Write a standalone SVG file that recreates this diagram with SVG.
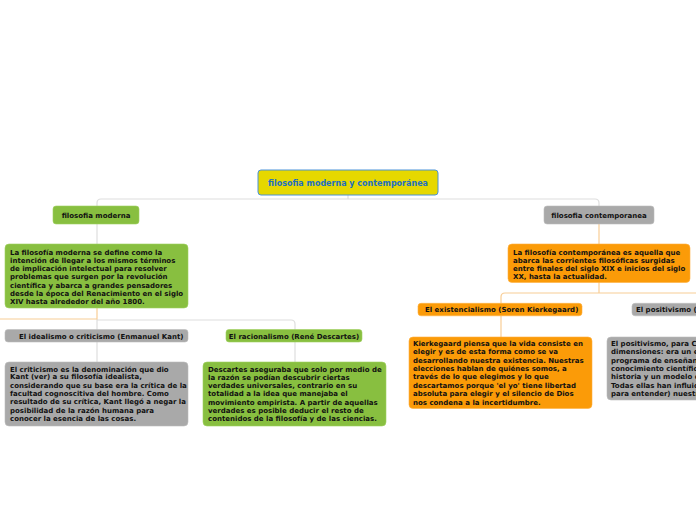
<svg xmlns="http://www.w3.org/2000/svg" width="696" height="520" viewBox="0 0 696 520">
<style>
text{font-family:"DejaVu Sans","Verdana",sans-serif;font-weight:bold;font-size:7px;fill:#111}
.green{fill:#88bf40;stroke:#9fd060;stroke-width:0.6}
.gray{fill:#a9a9a9;stroke:#bdbdbd;stroke-width:0.6}
.orange{fill:#fb9b08;stroke:#ffb040;stroke-width:0.6}
.cg{fill:none;stroke:#dedede;stroke-width:1.2}
.co{fill:none;stroke:#f8cd95;stroke-width:1.2}
.root{fill:#e6d800;stroke:#4a92d8;stroke-width:1}
.rt{fill:#1f6fc0;font-size:8px}
.c{text-anchor:middle}
</style>
<rect width="696" height="520" fill="#ffffff"/>
<g id="connectors">
<path class="cg" d="M348 195 V199"/>
<path class="cg" d="M97 206 V203 Q97 199 101 199 H595 Q599 199 599 203 V206"/>
<path class="cg" d="M97 224 V244"/>
<path class="cg" d="M97 319 V330"/>
<path class="cg" d="M97 320 H291 Q295 320 295 324 V330"/>
<path class="cg" d="M97 342 V362"/>
<path class="cg" d="M295 342 V362"/>
<path class="co" d="M0 319 H97 V308"/>
<path class="co" d="M599 224 V244"/>
<path class="co" d="M599 282 V293"/>
<path class="co" d="M501 303 V297 Q501 293 505 293 H696"/>
<path class="co" d="M501 316 V337"/>
</g>
<g id="root">
<rect class="root" x="258" y="170" width="180" height="25" rx="3"/>
<text class="rt c" x="348" y="185.8">filosofia moderna y contemporánea</text>
</g>
<g id="moderna">
<rect class="green" x="53" y="206" width="86" height="18" rx="3"/>
<text class="c" x="96" y="217.5">filosofia moderna</text>
</g>
<g id="moderna-desc">
<rect class="green" x="5" y="244" width="183" height="64" rx="4"/>
<text x="10" y="254.8">La filosofía moderna se define como la</text>
<text x="10" y="262.8">intención de llegar a los mismos términos</text>
<text x="10" y="271.2">de implicación intelectual para resolver</text>
<text x="10" y="279.2">problemas que surgen por la revolución</text>
<text x="10" y="287.5">científica y abarca a grandes pensadores</text>
<text x="10" y="295.8">desde la época del Renacimiento en el siglo</text>
<text x="10" y="304.2">XIV hasta alrededor del año 1800.</text>
</g>
<g id="idealismo">
<rect class="gray" x="5" y="329.5" width="183" height="12.5" rx="3"/>
<text x="19" y="338.5">El idealismo o criticismo (Enmanuel Kant)</text>
</g>
<g id="idealismo-desc">
<rect class="gray" x="5" y="362" width="183" height="64" rx="4"/>
<text x="10" y="371.5">El criticismo es la denominación que dio</text>
<text x="10" y="379.2">Kant (ver) a su filosofía idealista,</text>
<text x="10" y="387.8">considerando que su base era la crítica de la</text>
<text x="10" y="395.8">facultad cognoscitiva del hombre. Como</text>
<text x="10" y="404.2">resultado de su crítica, Kant llegó a negar la</text>
<text x="10" y="412.5">posibilidad de la razón humana para</text>
<text x="10" y="420.8">conocer la esencia de las cosas.</text>
</g>
<g id="racionalismo">
<rect class="green" x="226" y="329.5" width="136" height="12.5" rx="3"/>
<text class="c" x="294" y="338.5">El racionalismo (René Descartes)</text>
</g>
<g id="racionalismo-desc">
<rect class="green" x="203" y="362" width="183" height="64" rx="4"/>
<text x="208" y="371.8">Descartes aseguraba que solo por medio de</text>
<text x="208" y="379.8">la razón se podían descubrir ciertas</text>
<text x="208" y="387.8">verdades universales, contrario en su</text>
<text x="208" y="396.2">totalidad a la idea que manejaba el</text>
<text x="208" y="404.5">movimiento empirista. A partir de aquellas</text>
<text x="208" y="412.8">verdades es posible deducir el resto de</text>
<text x="208" y="421.2">contenidos de la filosofía y de las ciencias.</text>
</g>
<g id="contemporanea">
<rect class="gray" x="544" y="206" width="110" height="18" rx="3"/>
<text class="c" x="599" y="217.5">filosofia contemporanea</text>
</g>
<g id="contemporanea-desc">
<rect class="orange" x="508" y="244" width="182" height="38.5" rx="4"/>
<text x="513" y="254.8">La filosofía contemporánea es aquella que</text>
<text x="513" y="262.8">abarca las corrientes filosóficas surgidas</text>
<text x="513" y="271.2">entre finales del siglo XIX e inicios del siglo</text>
<text x="513" y="279.2">XX, hasta la actualidad.</text>
</g>
<g id="existencialismo">
<rect class="orange" x="418" y="303.3" width="164" height="12.5" rx="3"/>
<text x="425" y="312.3">El existencialismo (Soren Kierkegaard)</text>
</g>
<g id="existencialismo-desc">
<rect class="orange" x="409" y="337" width="183" height="71.5" rx="4"/>
<text x="413" y="345.8">Kierkegaard piensa que la vida consiste en</text>
<text x="413" y="354.2">elegir y es de esta forma como se va</text>
<text x="413" y="362.5">desarrollando nuestra existencia. Nuestras</text>
<text x="413" y="370.8">elecciones hablan de quiénes somos, a</text>
<text x="413" y="379.2">través de lo que elegimos y lo que</text>
<text x="413" y="387.5">descartamos porque 'el yo' tiene libertad</text>
<text x="413" y="396.2">absoluta para elegir y el silencio de Dios</text>
<text x="413" y="404.8">nos condena a la incertidumbre.</text>
</g>
<g id="positivismo">
<rect class="gray" x="632" y="303.3" width="70" height="12.5" rx="3"/>
<text x="636" y="312.3">El positivismo (</text>
</g>
<g id="positivismo-desc">
<rect class="gray" x="607" y="337" width="95" height="63" rx="4"/>
<text x="611" y="345.8">El positivismo, para C</text>
<text x="611" y="354.2">dimensiones: era un e</text>
<text x="611" y="362.5">programa de enseñan</text>
<text x="611" y="370.8">conocimiento científic</text>
<text x="611" y="379.2">historia y un modelo d</text>
<text x="611" y="387.5">Todas ellas han influid</text>
<text x="611" y="396.2">para entender) nuestr</text>
</g>
</svg>
